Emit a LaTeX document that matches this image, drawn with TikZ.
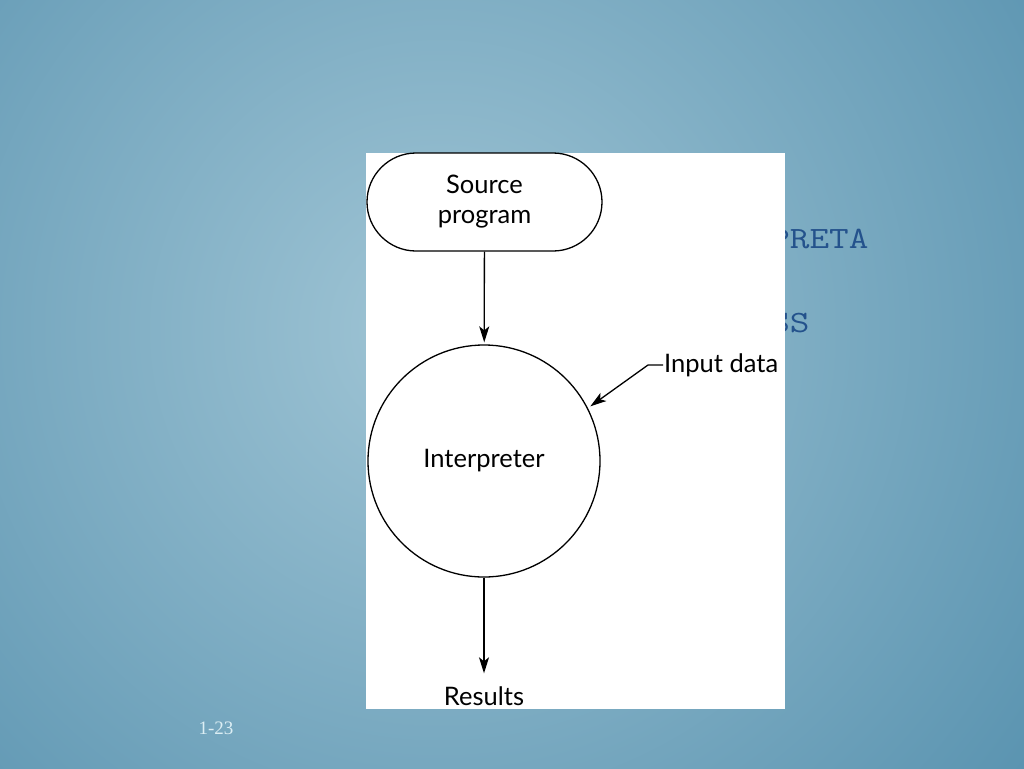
\documentclass[tikz,border=0pt]{standalone}
\usepackage{fontspec}
\setmainfont{Lato}
\newfontfamily\slideserif{Liberation Serif}
\usetikzlibrary{arrows.meta}
\definecolor{bgin}{HTML}{A0C5D5}
\definecolor{bgout}{HTML}{5892AF}
\definecolor{titleblue}{HTML}{24528C}
\definecolor{pagenum}{HTML}{DCEEF4}
\tikzset{
    flow/.style={line width=1.3pt, -{Stealth[length=16pt,width=10pt,inset=4pt]}},
    label/.style={font=\fontsize{25.5}{30}\selectfont, align=center},
    box/.style={label, draw, line width=1.3pt, fill=white},
    title/.style={anchor=base west, inner sep=0, text=titleblue, xscale=1.23, font=\ttfamily\fontsize{31}{31}\selectfont}
}
\begin{document}
\begin{tikzpicture}[x=1pt,y=-1pt]
    \useasboundingbox (0,0) rectangle (1024,768);
    % slide background
    \begin{scope}
        \clip (0,0) rectangle (1024,768);
        \shade[inner color=bgin, outer color=bgout] (440,330) circle (760);
    \end{scope}
    % title left behind the figure
    \node[title] (title1) at (770,248) {PRETA};
    \node[title] (title2) at (770,332) {SS};
    \node[text=pagenum, font=\slideserif\fontsize{19}{19}\selectfont] (page) at (216,728) {1-23};
    % figure
    \fill[white] (366,153) rectangle (785,709);

    \node[box, minimum width=235pt, minimum height=98pt, rounded corners=49pt] (src) at (484.5,202) {Source\\program};
    \node[box, circle, minimum size=232pt] (interp) at (484,461) {Interpreter};
    \node[label, anchor=west, inner sep=1pt] (idata) at (663,365) {Input data};
    \node[label, inner sep=1pt] (res) at (484,696) {Results};

\draw[flow, shorten >=2pt] (src) -- (interp);
\draw[flow, shorten >=12pt] (interp) -- (res);
\draw[flow, shorten >=3pt] (idata.west) -- ++(-15,0) -- (interp.27);

\end{tikzpicture}
\end{document}
